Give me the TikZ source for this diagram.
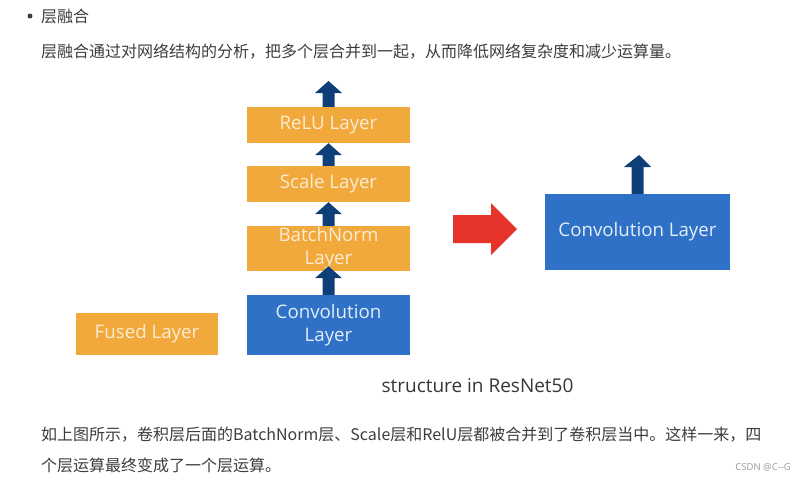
\documentclass[tikz,border=0pt]{standalone}
\usepackage{fontspec}
\setmainfont{Open Sans}
\newfontfamily\cjk{Noto Sans CJK SC}
\usetikzlibrary{calc}
\definecolor{orng}{HTML}{F2A93B}
\definecolor{orngtxt}{HTML}{FCEBD2}
\definecolor{blu}{HTML}{2E71C6}
\definecolor{blutxt}{HTML}{E4EDF8}
\definecolor{dkblu}{HTML}{0E3F78}
\definecolor{rd}{HTML}{E6342A}
\definecolor{bodytxt}{HTML}{3D3D3D}
\definecolor{credit}{HTML}{9A9A9A}
\newcommand\blockup[2]{%
  \fill[dkblu] let \p1=(#1), \p2=(#2) in
    (\x1-6pt,\y1) -- (\x1-6pt,\y2-12pt) -- (\x1-13.5pt,\y2-12pt) -- (\x2,\y2)
    -- (\x1+13.5pt,\y2-12pt) -- (\x1+6pt,\y2-12pt) -- (\x1+6pt,\y1) -- cycle;}
\begin{document}
\begin{tikzpicture}[x=1pt,y=-1pt,
  layer/.style={inner sep=0, align=center, font=\fontsize{18.7}{23}\selectfont},
  obox/.style={layer, fill=orng, text=orngtxt},
  bbox/.style={layer, fill=blu, text=blutxt},
  body/.style={anchor=west, inner sep=0, text=bodytxt, font=\cjk\fontsize{16}{16}\selectfont},
]
\useasboundingbox[fill=white] (0,0) rectangle (807,480);

% text above
\node[circle, fill=bodytxt, minimum size=5pt, inner sep=0] (bullet) at (30,16) {};
\node[body] (title) at (41,16) {层融合};
\node[body] (intro) at (41,52) {层融合通过对网络结构的分析，把多个层合并到一起，从而降低网络复杂度和减少运算量。};

% left column
\node[obox, minimum width=163pt, minimum height=36pt] (relu) at (328.5,125) {ReLU Layer};
\node[obox, minimum width=163pt, minimum height=36pt] (scale) at (328.5,184) {Scale Layer};
\node[obox, minimum width=163pt, minimum height=45pt] (bn) at (328.5,248.5) {BatchNorm\\Layer};
\node[bbox, minimum width=163pt, minimum height=60pt] (conv) at (328.5,325) {Convolution\\Layer};
\node[obox, minimum width=142pt, minimum height=42pt] (fused) at (147,334) {Fused Layer};

\coordinate (relutop) at (328.5,81);
\coordinate (bntip) at ($(bn.south)+(0,-5)$);
\blockup{relu.north}{relutop}
\blockup{scale.north}{relu.south}
\blockup{bn.north}{scale.south}
\blockup{conv.north}{bntip}

% red arrow
\coordinate (rstart) at (453,229);
\coordinate (rtip) at (517,229);
\fill[rd] let \p1=(rstart), \p2=(rtip) in
  (\x1,\y1+14pt) -- (\x2-26pt,\y1+14pt) -- (\x2-26pt,\y1+26pt) -- (\x2,\y2)
  -- (\x2-26pt,\y1-26pt) -- (\x2-26pt,\y1-14pt) -- (\x1,\y1-14pt) -- cycle;

% right
\node[bbox, minimum width=185pt, minimum height=76pt] (rconv) at (637.5,232) {Convolution Layer};
\coordinate (rtop) at (639,155);
\blockup{rconv.north}{rtop}

\node[inner sep=0, text=bodytxt!90!black, font=\fontsize{19}{22}\selectfont] (cap) at (477.5,386) {structure in ResNet50};

% text below
\node[body] (out1) at (41,435) {如上图所示，卷积层后面的BatchNorm层、Scale层和RelU层都被合并到了卷积层当中。这样一来，四};
\node[body] (out2) at (41,465) {个层运算最终变成了一个层运算。};
\node[anchor=east, inner sep=0, text=credit, font=\fontsize{9.5}{10}\selectfont] (csdn) at (791,467) {CSDN @C-{}-G};
\end{tikzpicture}
\end{document}
